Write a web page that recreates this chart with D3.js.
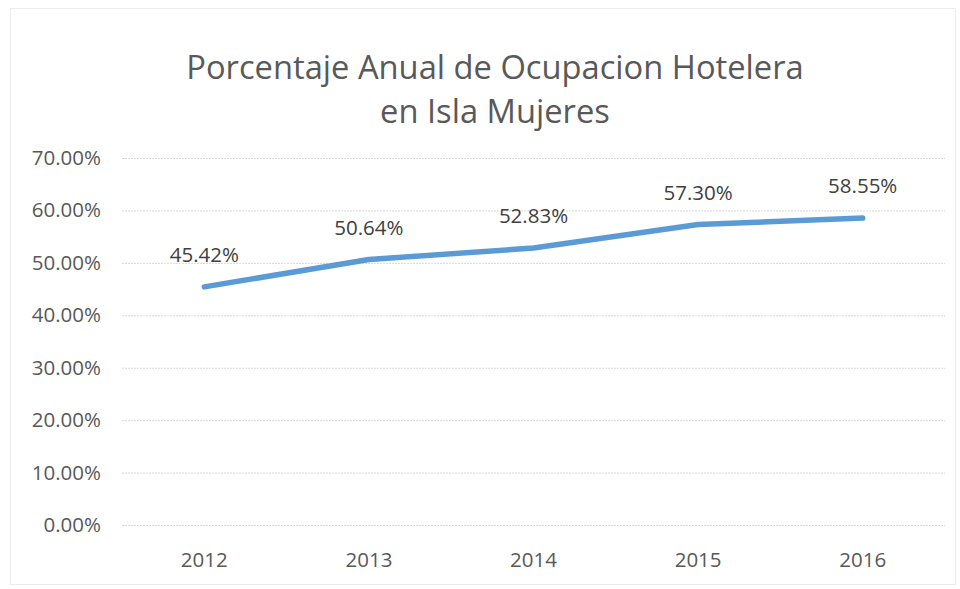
<!DOCTYPE html>
<html><head><meta charset="utf-8">
<script src="https://cdn.jsdelivr.net/npm/d3@7"></script>
<style>body{margin:0;background:#fff;} svg{display:block;}</style>
</head><body>
<svg id="chart" width="960" height="589"></svg>
<script>
const years = ["2012","2013","2014","2015","2016"];
const occupancy = [45.42, 50.64, 52.83, 57.30, 58.55];
const yTicks = [0,10,20,30,40,50,60,70];
const titleLines = ["Porcentaje Anual de Ocupacion Hotelera","en Isla Mujeres"];

const svg = d3.select("#chart");
const font = "'Open Sans', 'Liberation Sans', sans-serif";
const grey = "#595959";
const m = {left:122, right:15, top:158, bottom:64};
const W = 960, H = 589;

svg.append("rect").attr("x",10.5).attr("y",8.5).attr("width",945).attr("height",576)
  .attr("fill","#fff").attr("stroke","#ececec");

const x = d3.scaleBand().domain(years).range([m.left, W-m.right]);
const y = d3.scaleLinear().domain([0,70]).range([H-m.bottom, m.top]);

const yAxis = svg.append("g").attr("transform",`translate(${m.left},0)`)
  .call(d3.axisLeft(y).tickValues(yTicks).tickSize(-(W-m.right-m.left)).tickFormat(d=>d.toFixed(2)+"%"));
yAxis.select(".domain").remove();
yAxis.selectAll("line").attr("stroke","#d9d9d9").attr("stroke-dasharray","2,1");
yAxis.selectAll("text").attr("x",-21).attr("fill",grey).style("font-family",font).style("font-size","20.5px");

const xAxis = svg.append("g").attr("transform",`translate(0,${H-m.bottom})`)
  .call(d3.axisBottom(x).tickSize(0));
xAxis.select(".domain").remove();
xAxis.selectAll("text").attr("y",0).attr("dy","0").attr("transform","translate(0,42)").attr("fill",grey).style("font-family",font).style("font-size","20.5px");

const line = d3.line().x((d,i)=>x(years[i])+x.bandwidth()/2).y(d=>y(d));
svg.append("path").datum(occupancy).attr("d",line).attr("fill","none")
  .attr("stroke","#5b9bd5").attr("stroke-width",5.5).attr("stroke-linecap","round").attr("stroke-linejoin","round");

svg.append("g").selectAll("text").data(occupancy).join("text")
  .attr("x",(d,i)=>x(years[i])+x.bandwidth()/2)
  .attr("y",d=>y(d)-25)
  .attr("text-anchor","middle").attr("fill","#404040")
  .style("font-family",font).style("font-size","20.5px")
  .text(d=>d.toFixed(2)+"%");

svg.append("g").selectAll("text").data(titleLines).join("text")
  .attr("x",495).attr("y",(d,i)=>79+i*44)
  .attr("text-anchor","middle").attr("fill",grey)
  .style("font-family",font).style("font-size","32.7px")
  .text(d=>d);
</script>
</body></html>
